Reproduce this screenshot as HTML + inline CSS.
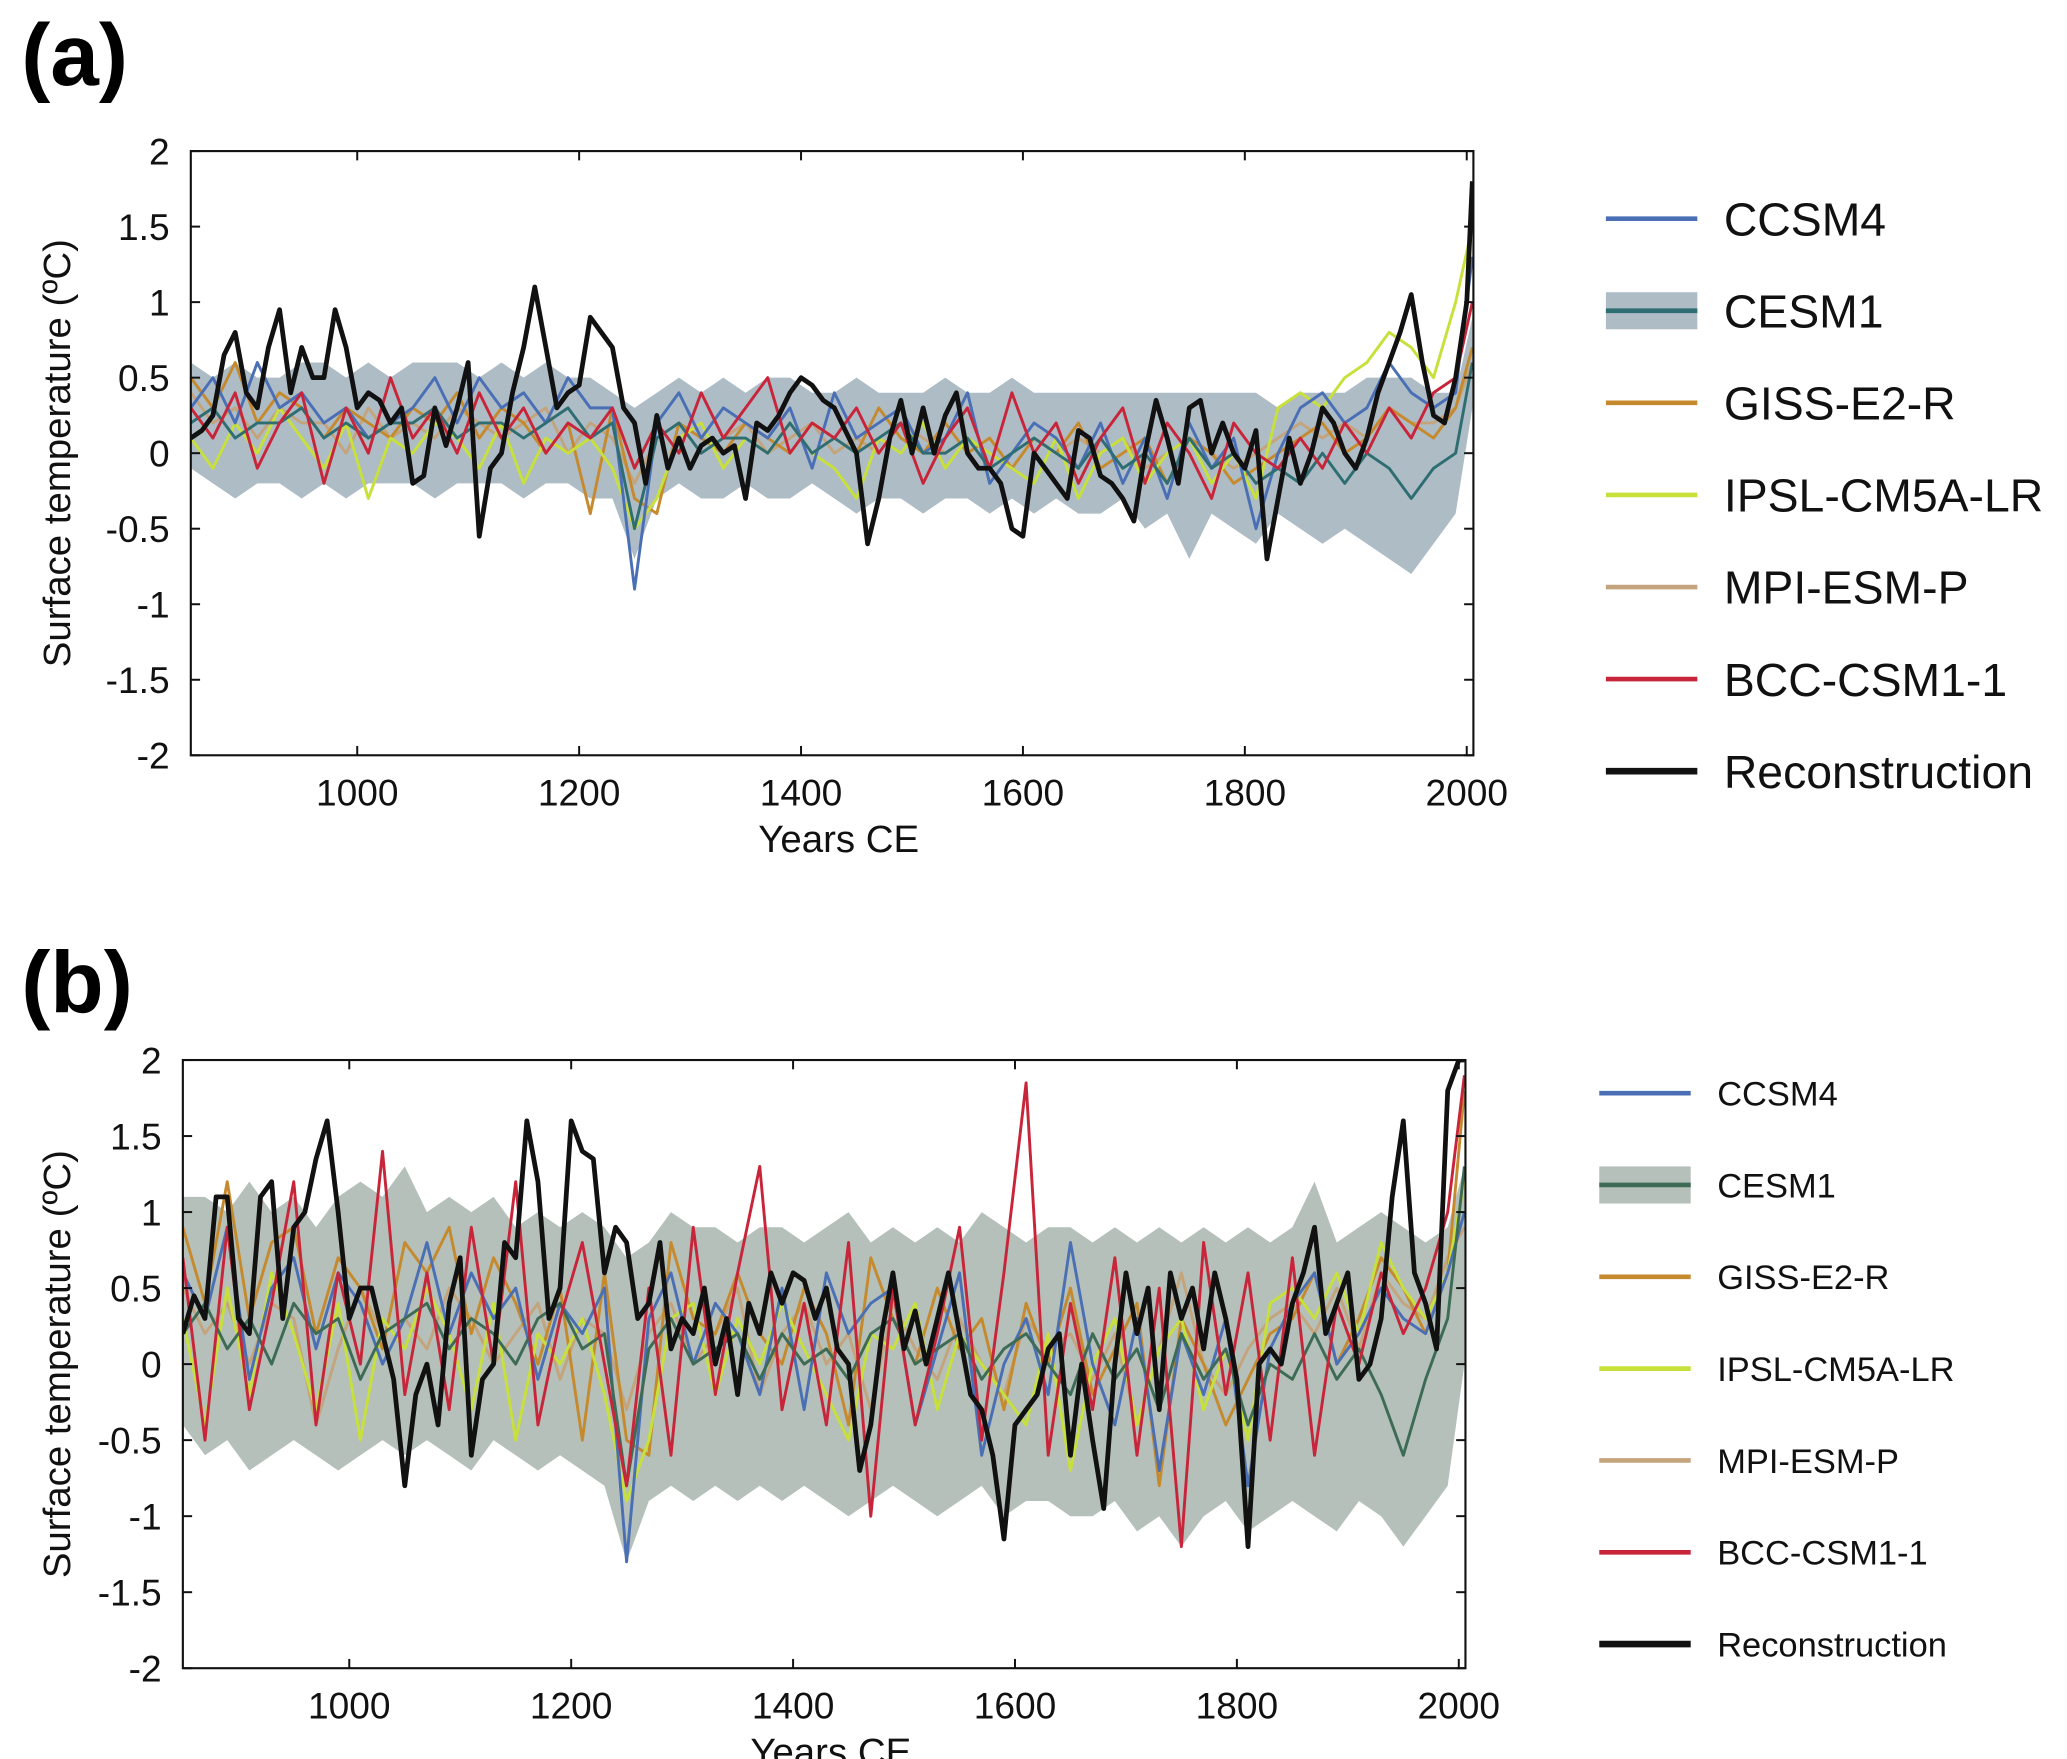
<!DOCTYPE html>
<html><head><meta charset="utf-8"><style>
html,body{margin:0;padding:0;background:#fff;}
svg{display:block;font-family:"Liberation Sans",Arial,sans-serif;}
</style></head><body>
<svg id="fig" width="2067" height="1759" viewBox="0 0 1560 1327.5" xmlns="http://www.w3.org/2000/svg">
<text x="16" y="64" font-size="66" font-weight="bold">(a)</text>
<text x="16" y="764" font-size="66" font-weight="bold">(b)</text>
</svg>
<script>
// ---- data ----
const reconStart = 850, reconStep = 10, lastYear = 2005;
const modelStart = 850, modelStep = 20;
const yTicks = [2,1.5,1,0.5,0,-0.5,-1,-1.5,-2];
const yTickLabels = ["2","1.5","1","0.5","0","-0.5","-1","-1.5","-2"];
const xTicks = [1000,1200,1400,1600,1800,2000];
const xTickLabels = ["1000","1200","1400","1600","1800","2000"];
const seriesNames = ["CCSM4","CESM1","GISS-E2-R","IPSL-CM5A-LR","MPI-ESM-P","BCC-CSM1-1","Reconstruction"];

const reconA = [0.1,0.15,0.25,0.65,0.8,0.4,0.3,0.7,0.95,0.4, 0.7,0.5,0.5,0.95,0.7,0.3,0.4,0.35,0.2,0.3, -0.2,-0.15,0.3,0.05,0.3,0.6,-0.55,-0.1,0.0,0.4, 0.7,1.1,0.7,0.3,0.4,0.45,0.9,0.8,0.7,0.3, 0.2,-0.2,0.25,-0.1,0.1,-0.1,0.05,0.1,0.0,0.05, -0.3,0.2,0.15,0.25,0.4,0.5,0.45,0.35,0.3,0.15, 0.0,-0.6,-0.3,0.1,0.35,0.0,0.3,0.0,0.25,0.4, 0.0,-0.1,-0.1,-0.2,-0.5,-0.55,0.0,-0.1,-0.2,-0.3, 0.15,0.1,-0.15,-0.2,-0.3,-0.45,0.0,0.35,0.1,-0.2, 0.3,0.35,0.0,0.2,0.0,-0.1,0.15,-0.7,-0.3,0.1, -0.2,0.0,0.3,0.2,0.0,-0.1,0.1,0.4,0.6,0.8, 1.05,0.6,0.25,0.2,0.5,1.0, 1.8];
const reconB = [0.2,0.45,0.3,1.1,1.1,0.3,0.2,1.1,1.2,0.3, 0.9,1.0,1.35,1.6,1.0,0.3,0.5,0.5,0.2,-0.1, -0.8,-0.2,0.0,-0.4,0.4,0.7,-0.6,-0.1,0.0,0.8, 0.7,1.6,1.2,0.3,0.5,1.6,1.4,1.35,0.6,0.9, 0.8,0.3,0.4,0.8,0.1,0.3,0.2,0.5,0.0,0.3, -0.2,0.4,0.2,0.6,0.4,0.6,0.55,0.3,0.5,0.1, 0.0,-0.7,-0.4,0.2,0.6,0.1,0.35,0.0,0.3,0.6, 0.2,-0.2,-0.3,-0.6,-1.15,-0.4,-0.3,-0.2,0.1,0.2, -0.6,0.0,-0.5,-0.95,0.0,0.6,0.2,0.5,-0.3,0.6, 0.3,0.5,0.1,0.6,0.3,-0.1,-1.2,0.0,0.1,0.0, 0.4,0.6,0.9,0.2,0.4,0.6,-0.1,0.0,0.3,1.1, 1.6,0.6,0.4,0.1,1.8,2.0, 2.0];

const ccsmA = [0.3,0.5,0.2,0.6,0.3,0.4,0.2,0.3,0.1,0.2, 0.3,0.5,0.2,0.5,0.3,0.4,0.2,0.5,0.3,0.3, -0.9,0.2,0.4,0.1,0.3,0.2,0.1,0.3,-0.1,0.4, 0.1,0.2,0.3,0.0,0.1,0.4,-0.2,0.0,0.2,0.1, -0.1,0.2,-0.2,0.1,-0.3,0.2,-0.1,0.1,-0.5,0.0, 0.3,0.4,0.2,0.3,0.6,0.4,0.3,0.4, 1.3];
const cesmA = [0.2,0.3,0.1,0.2,0.2,0.3,0.1,0.2,0.1,0.2, 0.2,0.3,0.1,0.2,0.2,0.1,0.2,0.3,0.1,0.2, -0.5,0.1,0.2,0.0,0.1,0.1,0.0,0.2,0.0,0.1, 0.0,0.1,0.2,0.0,0.0,0.1,-0.1,0.0,0.1,0.0, -0.1,0.1,-0.1,0.0,-0.2,0.1,-0.1,0.0,-0.2,-0.1, -0.2,0.0,-0.2,0.0,-0.1,-0.3,-0.1,0.0, 0.6];
const gissA = [0.5,0.3,0.6,0.2,0.4,0.3,0.1,0.3,0.2,0.1, 0.3,0.2,0.4,0.1,0.3,0.2,0.0,0.2,-0.4,0.3, -0.3,-0.4,0.2,0.1,0.0,0.2,0.1,0.0,0.2,0.1, 0.0,0.3,0.1,0.0,0.2,0.0,0.1,-0.1,0.1,0.0, 0.2,-0.1,0.0,0.1,-0.2,0.1,0.0,-0.2,-0.1,0.0, 0.1,0.2,0.0,0.1,0.3,0.2,0.1,0.3, 0.7];
const ipslA = [0.1,-0.1,0.2,0.0,0.3,0.1,-0.1,0.2,-0.3,0.1, 0.0,0.2,0.1,-0.1,0.2,-0.2,0.1,0.0,0.1,-0.1, -0.5,-0.3,0.1,0.2,-0.1,0.1,0.0,0.2,0.0,-0.1, -0.3,0.1,0.0,0.2,-0.1,0.1,0.0,-0.1,-0.2,0.1, -0.3,0.0,0.1,-0.2,0.0,0.1,-0.2,0.0,-0.3,0.3, 0.4,0.3,0.5,0.6,0.8,0.7,0.5,1.0, 1.5];
const mpiA = [0.4,0.2,0.3,0.1,0.3,0.2,0.2,0.0,0.3,0.1, 0.2,0.1,0.3,0.2,0.1,0.2,0.3,0.0,0.2,0.1, -0.2,0.1,0.2,0.0,0.1,0.2,0.0,0.1,0.2,0.0, 0.1,0.0,0.2,0.1,0.0,0.1,0.0,-0.1,0.1,0.0, 0.1,0.0,0.1,-0.1,0.0,0.1,0.0,-0.1,0.0,0.1, 0.2,0.1,0.2,0.1,0.3,0.2,0.2,0.3, 0.6];
const bccA = [0.3,0.1,0.4,-0.1,0.2,0.4,-0.2,0.3,0.0,0.5, 0.1,0.3,0.0,0.4,0.1,0.3,0.0,0.2,0.1,0.3, -0.1,0.2,0.0,0.4,0.1,0.3,0.5,0.0,0.2,0.1, 0.3,0.0,0.2,-0.2,0.1,0.3,-0.1,0.4,0.0,0.2, -0.2,0.1,0.3,-0.2,0.2,0.0,-0.3,0.2,0.0,-0.1, 0.1,-0.1,0.2,0.0,0.3,0.1,0.4,0.5, 1.0];
const bandUpA = [0.6,0.5,0.6,0.5,0.5,0.6,0.6,0.5,0.6,0.5, 0.6,0.6,0.6,0.5,0.6,0.5,0.6,0.5,0.5,0.4, 0.3,0.4,0.5,0.4,0.5,0.4,0.5,0.5,0.4,0.4, 0.5,0.4,0.4,0.4,0.5,0.4,0.4,0.5,0.4,0.4, 0.4,0.4,0.4,0.4,0.4,0.4,0.4,0.4,0.4,0.3, 0.4,0.4,0.4,0.5,0.5,0.5,0.4,0.4, 0.9];
const bandLoA = [-0.1,-0.2,-0.3,-0.2,-0.2,-0.3,-0.2,-0.3,-0.2,-0.2, -0.2,-0.3,-0.2,-0.2,-0.2,-0.3,-0.2,-0.2,-0.3,-0.3, -0.7,-0.3,-0.2,-0.3,-0.3,-0.2,-0.3,-0.3,-0.2,-0.3, -0.4,-0.3,-0.3,-0.4,-0.3,-0.3,-0.4,-0.3,-0.4,-0.3, -0.4,-0.4,-0.3,-0.5,-0.4,-0.7,-0.4,-0.5,-0.6,-0.4, -0.5,-0.6,-0.5,-0.6,-0.7,-0.8,-0.6,-0.4, 0.3];

const ccsmB = [0.6,0.3,0.9,-0.1,0.5,0.7,0.1,0.6,0.4,0.0, 0.3,0.8,0.2,0.6,0.3,0.5,-0.1,0.4,0.2,0.5, -1.3,0.3,0.6,0.0,0.4,0.2,-0.2,0.5,-0.3,0.6, 0.2,0.4,0.5,-0.4,0.1,0.6,-0.6,0.0,0.3,-0.2, 0.8,0.0,-0.4,0.3,-0.7,0.2,-0.2,0.3,-0.8,0.1, 0.4,0.6,0.0,0.2,0.5,0.3,0.2,0.6, 1.0];
const cesmB = [0.2,0.4,0.1,0.3,0.0,0.4,0.2,0.3,-0.1,0.2, 0.3,0.4,0.1,0.3,0.2,0.0,0.3,0.4,0.1,0.2, -0.8,0.1,0.3,0.0,0.1,0.2,-0.1,0.2,0.0,0.1, -0.1,0.2,0.3,0.0,0.1,0.2,-0.1,0.1,0.2,0.0, -0.2,0.2,-0.1,0.1,-0.3,0.2,-0.1,0.1,-0.4,0.0, -0.1,0.2,-0.1,0.1,-0.2,-0.6,-0.1,0.3, 1.3];
const gissB = [0.9,0.4,1.2,0.3,0.8,0.9,0.2,0.7,0.5,0.1, 0.8,0.6,0.9,0.2,0.7,0.4,0.0,0.5,-0.5,0.6, -0.5,-0.6,0.8,0.3,0.2,0.6,0.2,0.0,0.5,0.2, -0.4,0.7,0.3,0.0,0.5,0.1,0.3,-0.3,0.4,0.0, 0.5,-0.2,0.1,0.4,-0.8,0.3,0.0,-0.4,-0.1,0.2, 0.3,0.6,0.0,0.3,0.7,0.5,0.2,0.6, 1.8];
const ipslB = [0.3,-0.4,0.5,-0.2,0.6,0.2,-0.3,0.4,-0.5,0.3, 0.1,0.5,0.2,-0.3,0.4,-0.5,0.2,0.0,0.3,-0.2, -0.9,-0.5,0.3,0.4,-0.2,0.3,0.0,0.4,0.1,-0.2, -0.5,0.2,0.1,0.4,-0.3,0.2,0.0,-0.2,-0.4,0.2, -0.7,0.0,0.3,-0.4,0.1,0.3,-0.3,0.1,-0.5,0.4, 0.5,0.3,0.6,0.2,0.8,0.5,0.3,0.6, 1.2];
const mpiB = [0.5,0.2,0.4,0.0,0.4,0.3,-0.4,0.1,0.5,0.2, 0.3,0.1,0.5,0.3,0.0,0.2,0.4,-0.1,0.3,0.2, -0.3,0.2,0.4,0.0,0.2,0.5,-0.2,0.2,0.4,0.0, 0.2,-0.3,0.4,0.1,-0.1,0.3,0.0,-0.2,0.3,0.1, 0.2,-0.1,0.2,-0.4,0.1,0.6,0.0,-0.2,0.1,0.3, 0.4,0.2,0.5,0.1,0.6,0.4,0.3,0.7, 0.9];
const bccB = [0.7,-0.5,0.9,-0.3,0.4,1.2,-0.4,0.6,0.0,1.4, -0.2,0.6,-0.3,0.9,0.0,1.2,-0.4,0.3,0.8,0.0, -0.8,0.5,-0.6,0.9,-0.2,0.6,1.3,-0.3,0.4,-0.4, 0.8,-1.0,0.5,-0.4,0.2,0.9,-0.5,0.6,1.85,-0.6, 0.4,-0.3,0.7,-0.6,0.5,-1.2,0.8,-0.2,0.6,-0.5, 0.7,-0.6,0.4,0.0,0.6,0.2,0.5,1.0, 1.9];
const bandUpB = [1.1,1.1,1.0,1.2,1.0,1.1,0.9,1.1,1.2,1.1, 1.3,1.0,1.1,1.0,1.1,0.9,1.0,0.9,1.0,0.9, 0.7,0.8,1.0,0.9,0.9,0.8,0.9,0.9,0.8,0.9, 1.0,0.8,0.9,0.8,0.9,0.8,1.0,0.9,0.8,0.9, 0.9,0.8,0.9,0.8,0.9,0.8,0.9,0.8,0.9,0.8, 0.9,1.2,0.8,0.9,1.0,0.9,0.8,0.9, 1.3];
const bandLoB = [-0.4,-0.6,-0.5,-0.7,-0.6,-0.5,-0.6,-0.7,-0.6,-0.5, -0.6,-0.5,-0.6,-0.7,-0.5,-0.6,-0.7,-0.6,-0.7,-0.8, -1.3,-0.9,-0.8,-0.9,-0.8,-0.9,-0.8,-0.9,-0.8,-0.9, -1.0,-0.9,-0.8,-0.9,-1.0,-0.9,-0.8,-1.0,-0.9,-0.9, -1.0,-1.0,-0.9,-1.1,-1.0,-1.2,-1.0,-0.9,-1.1,-1.0, -0.9,-1.0,-1.1,-0.9,-1.0,-1.2,-1.0,-0.8, 0.0];

// ---- drawing ----
const NS = "http://www.w3.org/2000/svg";
const svg = document.getElementById('fig');
function mk(tag, attrs, parent){ const e=document.createElementNS(NS,tag); for(const k in attrs) e.setAttribute(k,attrs[k]); (parent||svg).appendChild(e); return e; }
function yearsFor(n,start,step){ const ys=[]; for(let i=0;i<n-1;i++) ys.push(start+step*i); ys.push(lastYear); return ys; }

function panel(cfg){
  const xMin=850, xMax=2006;
  const xs = v => cfg.L + (v-xMin)/(xMax-xMin)*(cfg.R-cfg.L);
  const ys = v => cfg.T + (2-v)/4*(cfg.B-cfg.T);
  const g = mk('g',{});
  
  
  const clipId='clip-'+cfg.id;
  const cp=mk('clipPath',{id:clipId},g); mk('rect',{x:cfg.L,y:cfg.T,width:cfg.R-cfg.L,height:cfg.B-cfg.T},cp);
  const plot=mk('g',{'clip-path':'url(#'+clipId+')'},g);
  // band
  const my = yearsFor(cfg.bandUp.length, modelStart, modelStep);
  let d='';
  cfg.bandUp.forEach((v,i)=>{ d+=(i?'L':'M')+xs(my[i]).toFixed(1)+' '+ys(v).toFixed(1); });
  for(let i=cfg.bandLo.length-1;i>=0;i--) d+='L'+xs(my[i]).toFixed(1)+' '+ys(cfg.bandLo[i]).toFixed(1);
  const band=mk('path',{d:d+'Z',fill:cfg.bandColor,stroke:'none'},plot);
  
  
  const line=(vals,start,step,color,w,name)=>{
    const yrs=yearsFor(vals.length,start,step);
    let p=''; vals.forEach((v,i)=>{ p+=(i?'L':'M')+xs(yrs[i]).toFixed(1)+' '+ys(v).toFixed(1); });
    const e=mk('path',{d:p,fill:'none',stroke:color,'stroke-width':w,'stroke-linejoin':'round'},plot);
    
    
  };
  line(cfg.mpi,modelStart,modelStep,'#c4a47c',2.2,'mpi-esm-p-line');
  line(cfg.giss,modelStart,modelStep,'#c68a2e',2.2,'giss-e2-r-line');
  line(cfg.ipsl,modelStart,modelStep,'#c8e03a',2.2,'ipsl-cm5a-lr-line');
  line(cfg.ccsm,modelStart,modelStep,'#4a6fb5',2.2,'ccsm4-line');
  line(cfg.cesm,modelStart,modelStep,cfg.cesmColor,2.2,'cesm1-line');
  line(cfg.bcc,modelStart,modelStep,'#c8253a',2.2,'bcc-csm1-1-line');
  line(cfg.recon,reconStart,reconStep,'#111',3.6,'reconstruction-line');
  // frame
  const fr=mk('rect',{x:cfg.L,y:cfg.T,width:cfg.R-cfg.L,height:cfg.B-cfg.T,fill:'none',stroke:'#111','stroke-width':1.6},g);
  
  
  yTicks.forEach((t,i)=>{
    mk('line',{x1:cfg.L,x2:cfg.L+7,y1:ys(t),y2:ys(t),stroke:'#111','stroke-width':1.5},g);
    mk('line',{x1:cfg.R,x2:cfg.R-7,y1:ys(t),y2:ys(t),stroke:'#111','stroke-width':1.5},g);
    const tx=mk('text',{x:cfg.L-16,y:ys(t)+10,'font-size':28,'text-anchor':'end',fill:'#111'},g);
    tx.textContent=yTickLabels[i];
    
    
  });
  xTicks.forEach((t,i)=>{
    mk('line',{x1:xs(t),x2:xs(t),y1:cfg.B,y2:cfg.B-7,stroke:'#111','stroke-width':1.5},g);
    mk('line',{x1:xs(t),x2:xs(t),y1:cfg.T,y2:cfg.T+7,stroke:'#111','stroke-width':1.5},g);
    const tx=mk('text',{x:xs(t),y:cfg.B+38,'font-size':28,'text-anchor':'middle',fill:'#111'},g);
    tx.textContent=xTickLabels[i];
    
    
  });
  const xt=mk('text',{x:(cfg.L+cfg.R)/2+5,y:cfg.B+73,'font-size':29,'text-anchor':'middle',fill:'#111'},g);
  xt.textContent='Years CE';
  
  
  const cy=(cfg.T+cfg.B)/2;
  const yt=mk('text',{x:0,y:0,'font-size':29,'text-anchor':'middle',fill:'#111',transform:'translate(53,'+cy+') rotate(-90)'},g);
  yt.textContent='Surface temperature (ºC)';
  
  
  // legend
  const colors=['#4a6fb5',cfg.cesmColor,'#c68a2e','#c8e03a','#c4a47c','#c8253a','#111'];
  seriesNames.forEach((n,i)=>{
    const y=cfg.legY0+i*cfg.legDy;
    const lg=mk('g',{},g);
    
    
    if(i===1) mk('rect',{x:cfg.legX,y:y-14,width:69,height:28,fill:cfg.bandColor},lg);
    mk('line',{x1:cfg.legX,x2:cfg.legX+69,y1:y,y2:y,stroke:colors[i],'stroke-width':i===6?5:3.5},lg);
    const tx=mk('text',{x:cfg.legX+89,y:y+cfg.legFont*0.36,'font-size':cfg.legFont,fill:'#111'},lg);
    tx.textContent=n;
  });
}
panel({id:'panel-a',L:144,R:1112,T:114,B:570,recon:reconA,ccsm:ccsmA,cesm:cesmA,giss:gissA,ipsl:ipslA,mpi:mpiA,bcc:bccA,bandUp:bandUpA,bandLo:bandLoA,bandColor:'#aebcc6',cesmColor:'#2e6e72',legX:1212,legY0:165,legDy:69.5,legFont:35});
panel({id:'panel-b',L:138,R:1106,T:800,B:1259,recon:reconB,ccsm:ccsmB,cesm:cesmB,giss:gissB,ipsl:ipslB,mpi:mpiB,bcc:bccB,bandUp:bandUpB,bandLo:bandLoB,bandColor:'#b4c0b9',cesmColor:'#3d6b55',legX:1207,legY0:825,legDy:69.3,legFont:26});
</script>
</body></html>
